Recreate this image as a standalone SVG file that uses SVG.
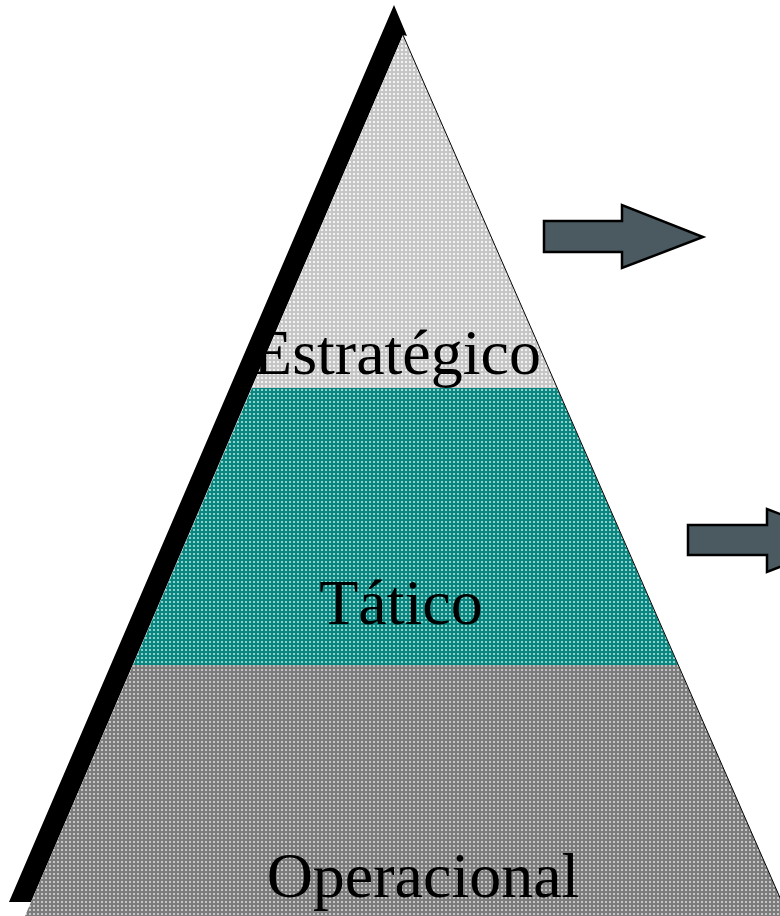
<svg xmlns="http://www.w3.org/2000/svg" width="780" height="916" viewBox="0 0 780 916">
<style>
.lbl{font-family:"Liberation Serif","Times New Roman",serif;font-size:64px;fill:#000;text-anchor:middle}
.arrow{fill:#4a5a60;stroke:#000;stroke-width:2.5;stroke-linejoin:miter}
</style>
<defs>
<pattern id="pTop" width="4" height="4" patternUnits="userSpaceOnUse"><rect width="4" height="4" fill="#c6c6c6"/><rect x="1" y="1" width="2" height="2" fill="#f2f2f2"/></pattern>
<pattern id="pMid" width="4" height="4" patternUnits="userSpaceOnUse"><rect width="4" height="4" fill="#0a8680"/><rect x="1" y="1" width="2" height="2" fill="#8fd0cb"/></pattern>
<pattern id="pBot" width="4" height="4" patternUnits="userSpaceOnUse"><rect width="4" height="4" fill="#7c7c7c"/><rect x="1" y="1" width="2" height="2" fill="#c4c4c4"/></pattern>
</defs>
<rect width="780" height="916" fill="#fff"/>
<g id="shadow">
<polygon points="394,5 9,902 31,902 403,35 407,36" fill="#000"/>
</g>
<g id="estrategico">
<polygon points="403,35 252,388 557,388" fill="url(#pTop)"/>
<text class="lbl" x="397" y="374">Estratégico</text>
</g>
<g id="tatico">
<polygon points="252,388 557,388 678,665 133,665" fill="url(#pMid)"/>
<text class="lbl" x="401" y="624">Tático</text>
</g>
<g id="operacional">
<polygon points="133,665 678,665 788,916 25,916" fill="url(#pBot)"/>
<text class="lbl" x="423" y="897">Operacional</text>
</g>
<g id="outline">
<line x1="403" y1="35" x2="788" y2="916" stroke="#000" stroke-width="1"/>
</g>
<g id="connectors">
<polygon id="arrow1" class="arrow" points="544,221 622,221 622,205 703,237 622,268 622,252 544,252"/>
<polygon id="arrow2" class="arrow" points="688,525 767,525 767,509 848,540 767,572 767,555 688,555"/>
</g>
</svg>
